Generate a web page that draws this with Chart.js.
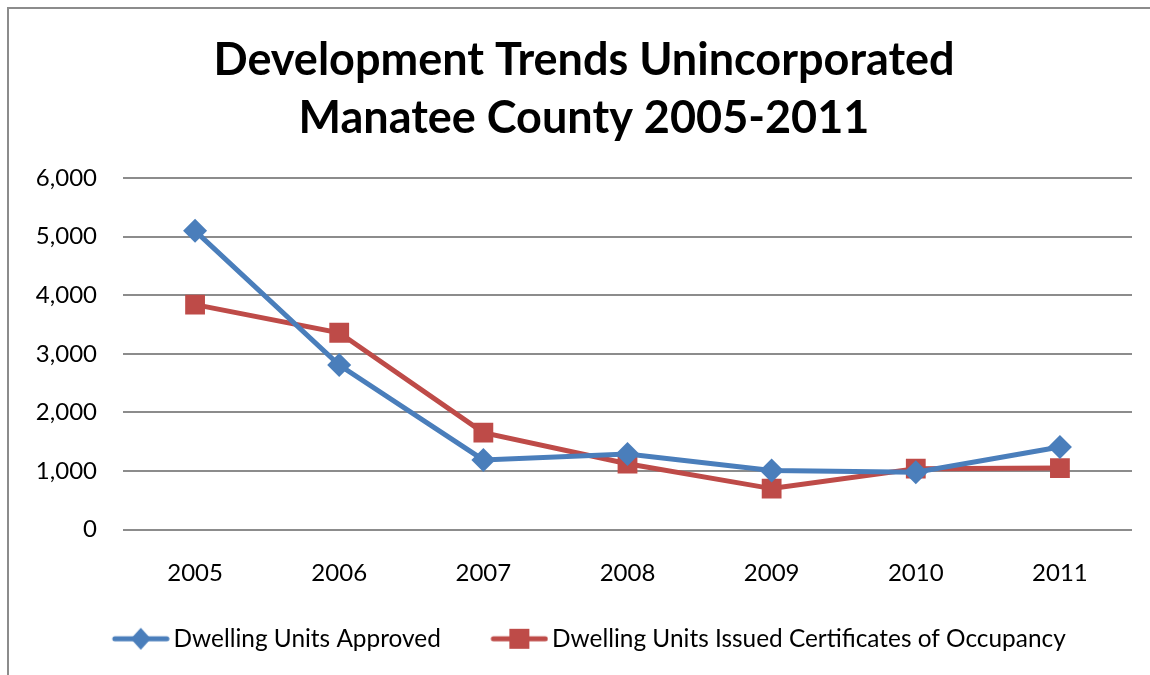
<!DOCTYPE html>
<html>
<head>
<meta charset="utf-8">
<script src="https://cdn.jsdelivr.net/npm/chart.js@4"></script>
<style>
  html, body { margin: 0; padding: 0; background: #fff; }
  #wrap { position: relative; width: 1150px; height: 675px; }
  #frame { position: absolute; left: 7px; top: 7px; right: 0; bottom: 0;
           border-top: 2px solid #8c8c8c; border-left: 2px solid #8c8c8c; }
</style>
</head>
<body>
<div id="wrap">
  <canvas id="trendChart" width="1150" height="675"></canvas>
  <div id="frame"></div>
</div>
<script>
var years = ['2005', '2006', '2007', '2008', '2009', '2010', '2011'];
var approved = [5100, 2810, 1190, 1290, 1010, 980, 1410];
var certificates = [3840, 3360, 1655, 1125, 700, 1040, 1050];
var seriesNames = ['Dwelling Units Approved', 'Dwelling Units Issued Certificates of Occupancy'];
var blue = '#4A7EBB';
var red = '#BE4B48';
var fontFamily = 'Lato, "Open Sans", sans-serif';

// legend icon: line with the marker in the middle.
// the canvas is wider than the drawing so the line sits a bit right of the item start
function legendIcon(color, shape) {
  var c = document.createElement('canvas');
  c.width = 76; c.height = 24;
  var g = c.getContext('2d');
  g.strokeStyle = color;
  g.lineWidth = 5;
  g.lineCap = 'round';
  g.beginPath();
  g.moveTo(21, 12); g.lineTo(73, 12);
  g.stroke();
  g.fillStyle = color;
  g.beginPath();
  if (shape === 'diamond') {
    g.moveTo(47, 1); g.lineTo(57, 12); g.lineTo(47, 23); g.lineTo(37, 12);
  } else {
    g.rect(37, 2, 20, 20);
  }
  g.fill();
  return c;
}
var icons = [legendIcon(blue, 'diamond'), legendIcon(red, 'square')];

var ctx = document.getElementById('trendChart').getContext('2d');
new Chart(ctx, {
  type: 'line',
  data: {
    labels: years,
    datasets: [{
      label: seriesNames[0],
      data: approved,
      borderColor: blue,
      backgroundColor: blue,
      borderWidth: 5,
      pointStyle: 'rectRot',
      pointRadius: 12,
      pointBorderWidth: 0,
      tension: 0
    }, {
      label: seriesNames[1],
      data: certificates,
      borderColor: red,
      backgroundColor: red,
      borderWidth: 5,
      pointStyle: 'rect',
      pointRadius: 14,
      pointBorderWidth: 0,
      tension: 0
    }]
  },
  options: {
    responsive: false,
    animation: false,
    layout: { padding: { left: 27, right: 9, top: 0, bottom: 14 } },
    plugins: {
      title: {
        display: true,
        text: ['Development Trends Unincorporated', 'Manatee County 2005-2011'],
        color: '#000',
        font: { family: fontFamily, size: 45, weight: 'bold', lineHeight: 1.29 },
        padding: { top: 31, bottom: 31 }
      },
      legend: {
        position: 'bottom',
        labels: {
          usePointStyle: true,
          pointStyleWidth: 59,
          boxHeight: 22,
          padding: 40,
          color: '#000',
          font: { family: fontFamily, size: 24.4 },
          generateLabels: function(chart) {
            return chart.data.datasets.map(function(ds, i) {
              return {
                text: ds.label,
                pointStyle: icons[i],
                fillStyle: ds.borderColor,
                strokeStyle: ds.borderColor,
                lineWidth: 0,
                datasetIndex: i,
                fontColor: '#000'
              };
            });
          }
        }
      },
      tooltip: { enabled: false }
    },
    scales: {
      x: {
        offset: true,
        grid: { display: false, drawTicks: false },
        border: { display: false },
        ticks: { color: '#000', padding: 29, font: { family: fontFamily, size: 24 } },
        afterFit: function(scale) { scale.height = 57; }
      },
      y: {
        min: 0,
        max: 6000,
        grid: { color: '#8c8c8c', lineWidth: 2, drawTicks: false },
        border: { display: false },
        ticks: {
          stepSize: 1000,
          color: '#000',
          padding: 26,
          font: { family: fontFamily, size: 24 },
          callback: function(v) { return v.toLocaleString('en-US'); }
        },
        afterFit: function(scale) { scale.width = 96; }
      },
      // empty spacer on the right so the plot ends where the reference does
      spacer: {
        position: 'right',
        grid: { display: false, drawTicks: false },
        border: { display: false },
        ticks: { display: false },
        afterFit: function(scale) { scale.width = 9; }
      }
    }
  }
});
</script>
</body>
</html>
